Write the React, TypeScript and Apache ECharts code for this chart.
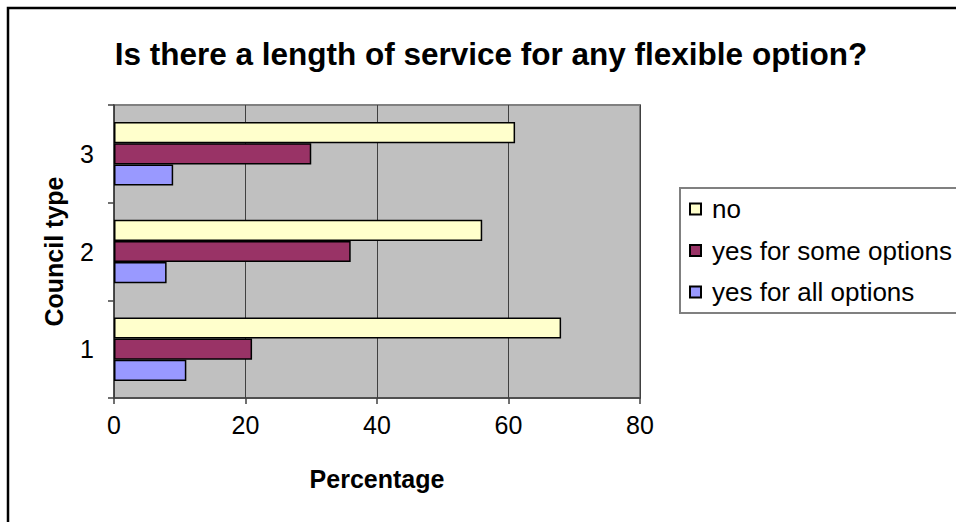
import React, { useEffect, useRef } from "react";
import * as echarts from "echarts";

// Council types along the vertical axis (bottom to top)
const councilTypes = ["1", "2", "3"];

// Percentages per council type
const noValues = [68, 56, 61];
const someOptionsValues = [21, 36, 30];
const allOptionsValues = [11, 8, 9];

const seriesNames = ["no", "yes for some options", "yes for all options"];

const xTicks = { min: 0, max: 80, interval: 20 };

const FONT = "'Liberation Sans', Arial, sans-serif";

export default function App() {
  const ref = useRef<HTMLDivElement>(null);

  useEffect(() => {
    if (!ref.current) return;
    const chart = echarts.init(ref.current, null, { renderer: "svg" });

    const barBorder = { borderColor: "#000000", borderWidth: 1.5 };

    chart.setOption({
      animation: false,
      backgroundColor: "#ffffff",
      textStyle: { fontFamily: FONT },
      title: {
        text: "Is there a length of service for any flexible option?",
        left: 486,
        textAlign: "center",
        top: 33,
        textStyle: { fontFamily: FONT, fontSize: 31.5, fontWeight: "bold", color: "#000" },
      },
      legend: {
        data: seriesNames,
        orient: "vertical",
        left: 680,
        top: 188,
        icon: "rect",
        itemWidth: 11,
        itemHeight: 11,
        itemGap: 15.5,
        padding: [8, 30, 8, 9],
        borderColor: "#808080",
        borderWidth: 2,
        textStyle: {
          fontFamily: FONT,
          fontSize: 26,
          color: "#000",
          lineHeight: 26,
          padding: [0, 0, 0, 6],
        },
      },
      grid: {
        left: 114,
        right: 316,
        top: 105,
        bottom: 124,
        show: true,
        backgroundColor: "#C0C0C0",
        borderColor: "#808080",
        borderWidth: 2,
      },
      xAxis: {
        type: "value",
        min: xTicks.min,
        max: xTicks.max,
        interval: xTicks.interval,
        name: "Percentage",
        nameLocation: "middle",
        nameGap: 68,
        nameTextStyle: { fontFamily: FONT, fontSize: 25, fontWeight: "bold", color: "#000" },
        axisLine: { show: true, lineStyle: { color: "#404040", width: 1.5 } },
        axisTick: { show: true, length: 6, lineStyle: { color: "#404040", width: 1.5 } },
        axisLabel: { fontFamily: FONT, fontSize: 25, color: "#000", margin: 14 },
        splitLine: { show: true, lineStyle: { color: "#404040", width: 1 } },
      },
      yAxis: {
        type: "category",
        data: councilTypes,
        name: "Council type",
        nameLocation: "middle",
        nameGap: 48,
        nameRotate: 90,
        nameTextStyle: { fontFamily: FONT, fontSize: 25, fontWeight: "bold", color: "#000" },
        axisLine: { show: true, lineStyle: { color: "#404040", width: 1.5 } },
        axisTick: { show: true, length: 6, alignWithLabel: false, lineStyle: { color: "#404040", width: 1.5 } },
        axisLabel: { fontFamily: FONT, fontSize: 25, color: "#000", margin: 20 },
        splitLine: { show: false },
      },
      series: [
        {
          name: "no",
          type: "bar",
          data: noValues,
          barGap: "0%",
          barCategoryGap: "35%",
          itemStyle: { color: "#FFFFCC", ...barBorder },
        },
        {
          name: "yes for some options",
          type: "bar",
          data: someOptionsValues,
          barGap: "0%",
          barCategoryGap: "35%",
          itemStyle: { color: "#993366", ...barBorder },
        },
        {
          name: "yes for all options",
          type: "bar",
          data: allOptionsValues,
          barGap: "0%",
          barCategoryGap: "35%",
          itemStyle: { color: "#9999FF", ...barBorder },
        },
      ],
      graphic: [
        {
          type: "rect",
          shape: { x: 8, y: 8, width: 1000, height: 1000 },
          style: { fill: "none", stroke: "#000000", lineWidth: 2.5 },
          silent: true,
          z: 100,
        },
      ],
    });

    return () => chart.dispose();
  }, []);

  return (
    <div
      ref={ref}
      style={{ position: "absolute", left: 0, top: 0, width: 956, height: 522 }}
    />
  );
}
